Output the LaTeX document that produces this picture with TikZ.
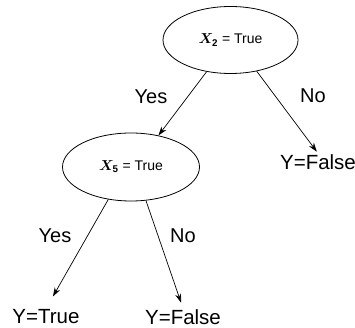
\documentclass[tikz,border=0pt]{standalone}
\usepackage{fontspec}
\setmainfont{Liberation Sans}
\usepackage{amsmath,bm}
\usetikzlibrary{arrows.meta,shapes.geometric}
\begin{document}
\begin{tikzpicture}[x=1pt,y=-1pt,
  testnode/.style={draw,ellipse,line width=0.8pt,minimum width=135pt,minimum height=67pt,inner sep=0pt,font=\fontsize{14}{16}\selectfont},
  leaf/.style={inner sep=1pt,font=\fontsize{20.5}{23}\selectfont},
  lbl/.style={inner sep=0pt,font=\fontsize{20}{23}\selectfont},
  edge/.style={draw,line width=0.7pt,-{Stealth[length=9pt,width=6pt]}}]
\useasboundingbox (0,0) rectangle (355,328);
\node[testnode] (t) at (230.5,40) {$\bm{X}_{\mathbf{2}}$ = True};
\node[testnode,minimum width=137pt,minimum height=68pt] (m) at (131,167) {$\bm{X}_{\mathbf{5}}$ = True};
\node[leaf] (yf1) at (318,162) {Y=False};
\node[leaf] (yt) at (46,317) {Y=True};
\node[leaf] (yf2) at (183,317) {Y=False};
\draw[edge] (t.233) -- (m.49);
\draw[edge,shorten >=2pt] (t.310) -- (yf1.north);
\draw[edge,shorten >=14pt] (m.235) -- (yt.north);
\draw[edge,shorten >=6pt] (m.294) -- (yf2.north);
\node[lbl] (l1) at (151,97) {Yes};
\node[lbl] (l2) at (313,96) {No};
\node[lbl] (l3) at (55,236) {Yes};
\node[lbl] (l4) at (183,236) {No};
\end{tikzpicture}
\end{document}
